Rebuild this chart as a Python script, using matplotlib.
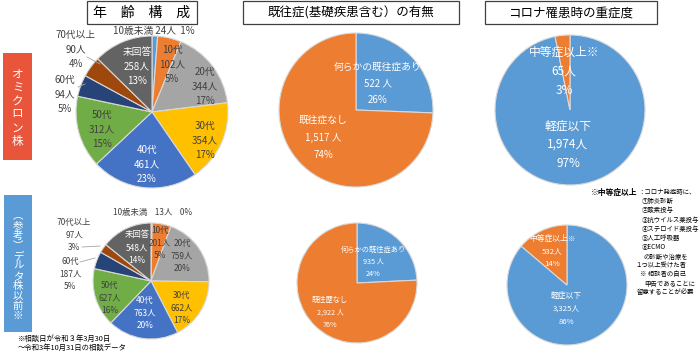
import matplotlib
matplotlib.use('Agg')
import matplotlib.pyplot as plt
from matplotlib.patches import Rectangle
from matplotlib.lines import Line2D
from matplotlib.text import Annotation

plt.rcParams['font.family'] = ['Noto Sans CJK JP', 'DejaVu Sans']

# ---- data ----
age_names = ['10歳未満', '10代', '20代', '30代', '40代', '50代', '60代', '70代以上', '未回答']
age_omicron = [24, 102, 344, 354, 461, 312, 94, 90, 258]
age_delta = [13, 201, 759, 662, 763, 627, 187, 97, 548]
age_colors = ['#5B9BD5', '#ED7D31', '#A5A5A5', '#FFC000', '#4472C4',
              '#70AD47', '#264478', '#9E480E', '#636363']

hist_names = ['何らかの既往症あり', '既往症なし']
hist_names_delta = ['何らかの既往症あり', '既往歴なし']
hist_omicron = [522, 1517]
hist_delta = [935, 2922]

sev_names = ['軽症以下', '中等症以上※']
sev_omicron = [1974, 65]
sev_delta = [3325, 532]

blue, orange = '#5B9BD5', '#ED7D31'
dark = '#404040'

W, H = 700, 355
fig = plt.figure(figsize=(7, 3.55), dpi=100)


def fx(x):
    return x / W


def fy(y):
    return 1 - y / H


def pie(cx, cy, r, values, colors):
    m = r + 3
    ax = fig.add_axes([(cx - m) / W, 1 - (cy + m) / H, 2 * m / W, 2 * m / H])
    ax.pie(values, colors=colors, startangle=90, counterclock=False,
           wedgeprops=dict(edgecolor='#d9d9d9', linewidth=0.8))
    ax.set_xlim(-m / r, m / r)
    ax.set_ylim(-m / r, m / r)
    ax.set_aspect('auto')
    ax.axis('off')
    return ax


def label(x, y, lines, color, size, dy):
    for i, s in enumerate(lines):
        fig.text(fx(x), fy(y + i * dy), s, ha='center', va='center',
                 color=color, fontsize=size)


def pct(values):
    t = sum(values)
    return [round(v / t * 100) for v in values]


def line(x0, y0, x1, y1):
    fig.add_artist(Line2D([fx(x0), fx(x1)], [fy(y0), fy(y1)],
                          color='#a6a6a6', lw=0.6))


def box(x0, y0, x1, y1, text, size):
    fig.add_artist(Rectangle((fx(x0), fy(y1)), fx(x1) - fx(x0), fy(y0) - fy(y1),
                             facecolor='white', edgecolor='#404040', lw=0.9))
    fig.text(fx((x0 + x1) / 2), fy((y0 + y1) / 2 + 0.5), text, ha='center',
             va='center', fontsize=size, color='black')


def vbox(x0, y0, x1, y1, color, text, ty, size, ls):
    fig.add_artist(Rectangle((fx(x0), fy(y1)), fx(x1) - fx(x0), fy(y0) - fy(y1),
                             facecolor=color, edgecolor='none'))
    fig.text(fx((x0 + x1) / 2), fy(ty), '\n'.join(text), ha='center',
             va='center', ma='center', fontsize=size, color='white', linespacing=ls)


# ---- titles ----
box(87, 1, 197, 24, '年　齢　構　成', 10)
box(243, 1, 459, 24, '既往症(基礎疾患含む）の有無', 9)
box(485, 1, 657, 24, 'コロナ罹患時の重症度', 9)

vbox(3, 53, 32, 160, '#E8553A', 'オミクロン株', 108, 8.4, 1.03)
vbox(4, 195, 32, 332, '#5B9BD5', '︵参考︶デルタ株以前※', 266, 7.5, 1.0)

# ---- age pies ----
pie(152, 112, 76, age_omicron, age_colors)
p = pct(age_omicron)
txt = [[n, f'{v}人', f'{q}%'] for n, v, q in zip(age_names, age_omicron, p)]
fig.text(fx(154), fy(31), f'{age_names[0]} {age_omicron[0]}人  {p[0]}%',
         ha='center', va='center', fontsize=7, color=dark)
pos_o = [None, (172, 50), (205, 72), (205, 126), (147, 150), (102, 115),
         (65, 80), (76, 35), (137, 52)]
col_o = [dark, dark, dark, dark, 'white', dark, dark, dark, 'white']
for i in range(1, 9):
    label(pos_o[i][0], pos_o[i][1], txt[i], col_o[i], 7, 14.5)
line(87, 57, 100, 64)
line(78, 87, 85, 84)

pie(151, 281, 58, age_delta, age_colors)
p = pct(age_delta)
txt = [[n, f'{v}人', f'{q}%'] for n, v, q in zip(age_names, age_delta, p)]
fig.text(fx(153), fy(213), f'{age_names[0]}    {age_delta[0]}人    {p[0]}%',
         ha='center', va='center', fontsize=6, color=dark)
pos_d = [None, (160, 230), (182, 243), (182, 295), (145, 300), (110, 285),
         (70, 261), (74, 222), (137, 235)]
col_d = [dark, dark, dark, dark, 'white', dark, dark, dark, 'white']
for i in range(1, 9):
    label(pos_d[i][0], pos_d[i][1], txt[i], col_d[i], 6, 12.8)
line(82, 247, 100, 246)
line(80, 262, 95, 258)

# ---- history pies ----
pie(356, 110, 77, hist_omicron, [blue, orange])
p = pct(hist_omicron)
label(378, 67, [hist_names[0], f'{hist_omicron[0]} 人', f'{p[0]}%'], 'white', 7, 16.5)
label(323, 120, [hist_names[1], f'{hist_omicron[1]:,} 人', f'{p[1]}%'], 'white', 7, 17.5)

pie(357, 283, 60, hist_delta, [blue, orange])
p = pct(hist_delta)
label(373, 250, [hist_names_delta[0], f'{hist_delta[0]} 人', f'{p[0]}%'], 'white', 5.2, 12)
label(330, 300, [hist_names_delta[1], f'{hist_delta[1]:,} 人', f'{p[1]}%'], 'white', 5.2, 12.5)

# ---- severity pies ----
pie(570, 110, 75, sev_omicron, [blue, orange])
p = pct(sev_omicron)
label(564, 52, [sev_names[1], f'{sev_omicron[1]}人', f'{p[1]}%'], 'white', 8.5, 19)
label(568, 126, [sev_names[0], f'{sev_omicron[0]:,}人', f'{p[0]}%'], 'white', 8.5, 18.5)

pie(567, 285, 60, sev_delta, [blue, orange])
p = pct(sev_delta)
label(552, 239, [sev_names[1], f'{sev_delta[1]}人', f'{p[1]}%'], 'white', 5.6, 12.5)
label(566, 296, [sev_names[0], f'{sev_delta[0]:,}人', f'{p[0]}%'], 'white', 5.6, 13)

# ---- notes ----
head = fig.text(fx(591), fy(192), '※中等症以上', ha='left', va='center', fontsize=5.6,
                fontweight='bold', color='black')
fig.add_artist(Annotation(
    '：コロナ発症時に、', xy=(1, 0.5), xycoords=head, xytext=(0.5, 0),
    textcoords='offset points', ha='left', va='center', fontsize=4.6, color='black'))
notes = [(642, 201, '①肺炎診断'), (642, 210, '②酸素投与'), (642, 220, '③抗ウイルス薬投与'),
         (642, 229, '④ステロイド薬投与'), (642, 238, '⑤人工呼吸器'), (642, 247, '⑥ECMO'),
         (644, 257, 'の診断や治療を'), (635, 265, '１つ以上受けた者'),
         (640, 274, '※ 相談者の自己'), (644, 284, '申告であることに'),
         (637, 292, '留意することが必要')]
for x, y, s in notes:
    fig.text(fx(x), fy(y), s, ha='left', va='center', fontsize=4.6, color='black')

fig.text(fx(18), fy(339), '※相談日が令和３年3月30日', ha='left', va='center',
         fontsize=5.3, color='black')
fig.text(fx(18), fy(348), '～令和3年10月31日の相談データ', ha='left', va='center',
         fontsize=5.3, color='black')

fig.savefig('out.png', dpi=100, facecolor='white')
